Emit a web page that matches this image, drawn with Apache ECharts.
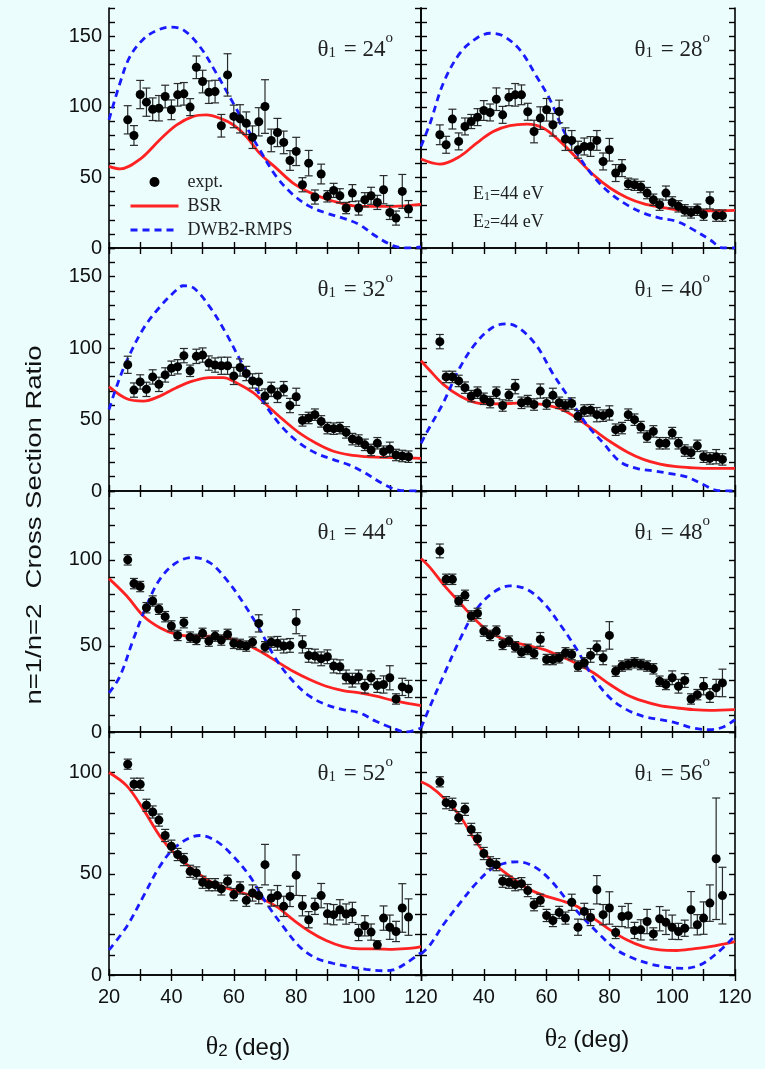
<!DOCTYPE html>
<html><head><meta charset="utf-8">
<script src="https://cdn.jsdelivr.net/npm/echarts@6/dist/echarts.min.js"></script>
<style>html,body{margin:0;padding:0;background:#ebfdfd;} #c{width:765px;height:1069px;}</style>
</head><body><div id="c"></div><script>
// ---------- data ----------
const theta1 = [24, 28, 32, 40, 44, 48, 52, 56];
const theta2Expt = [26,28,30,32,34,36,38,40,42,44,46,48,50,52,54,56,58,60,62,64,66,68,70,72,74,76,78,80,82,84,86,88,90,92,94,96,98,100,102,104,106,108,110,112,114,116];
const xTickLabels = [20, 40, 60, 80, 100, 120];
const yTickLabelsRow = [[0,50,100,150],[0,50,100,150],[0,50,100],[0,50,100]];
const yMaxRow = [170, 170, 140, 120];

const expt24 = [90.8,79.7,108.7,103.3,98.3,99,107.3,97.9,108.5,109.2,99.8,128,117.9,110.4,110.8,86.6,122.6,93.2,91.5,88.4,78.5,89.4,100.2,76.2,81.8,74.8,62,68.4,44.8,60.1,36.1,52.4,36.6,40.8,37,28.3,38.9,28.3,34.2,37,32.3,41.3,25.2,21.2,40.1,27.6];
const err24 = [10,7,10,10,8,9,8,7,8,8,6,8,8,8,8,8,15,8,10,8,8,10,19,8,10,8,7,10,5,9,5,7,4,5,5,4,6,5,5,6,5,10,5,5,12,6];
const expt28 = [80.2,73.1,91.3,75.5,86.1,89.6,92.7,97.4,96,105.4,94.3,106.8,108.5,108.5,96.5,82.5,92,97.9,87.3,96.7,77.1,76.2,69.6,71.9,71.9,76.2,61.3,69.6,53.1,56.6,45.5,44.8,43.2,38.9,34.2,30.7,38.9,32.3,29.5,26.7,25.2,27.1,23.6,33.7,22.9,22.9];
const err28 = [7,6,7,6,6,5,6,7,6,8,6,6,8,7,6,8,8,8,8,8,8,7,6,6,7,7,6,8,6,6,4,4,4,4,4,4,5,4,4,4,4,4,4,6,4,4];
const expt32 = [88.3,70.6,76.3,71.1,79.8,74.6,81.2,85.9,86.9,94.7,84.1,94.2,95.1,89.5,88.1,87.6,87.6,80.5,86.4,82.2,77,76.3,66.4,71.1,66.9,71.6,59.8,65.9,49.4,51.1,53.4,48.7,44,43.6,44,41,36.3,35.3,32.3,28.7,33.4,27.5,29.2,25.2,24.5,24];
const err32 = [6,5,5,5,5,5,5,5,5,5,4,5,5,5,5,6,6,6,6,5,5,6,5,5,5,5,5,6,4,4,4,4,4,4,4,4,4,4,4,4,4,4,5,4,4,4];
const expt40 = [104.5,79.8,79.8,77,72.3,66.4,68.8,64.5,62.2,68.8,59.8,67.1,73,61.7,62.9,60.5,69.9,61.2,66.9,61.7,59.8,61.2,52.3,56.3,56.5,53.4,52.7,54.6,42.9,44,53.4,49.9,44.7,38.1,41.7,33.4,33.4,40.5,33.4,28.3,26.8,31.6,24,22.8,24,22.1];
const err40 = [5,4,4,4,4,4,4,4,4,4,4,4,5,4,4,4,5,4,5,4,4,4,4,4,4,5,4,5,4,4,4,4,4,4,4,4,4,4,4,4,4,4,4,4,5,4];
const expt44 = [100,86.2,84.5,72.2,76.1,71.3,67,61.6,56.1,63.5,55.1,53.8,57.3,52.8,55.7,53.4,56.7,51.5,50.9,49.9,52.2,63.1,49.5,52.2,51.5,49.9,50.3,64.1,50.9,44.5,44.1,42.5,43.7,38.3,37.9,32,30.1,32,26.6,31.5,27,27.6,31.5,19.2,26.2,25];
const err44 = [3,3,3,3,3,3,3,3,3,3,3,3,3,3,3,3,3,3,3,3,3,5,3,3,4,4,4,7,5,4,4,4,4,4,4,4,4,4,4,4,4,5,7,3,5,5];
const expt48 = [105.2,88.7,88.7,76.1,79.4,67.4,68.9,58.6,56.1,58.6,50.9,52.8,49.5,46.4,48,45.6,53.8,42.1,42.1,43.1,46,45,38.3,40.2,44.5,48.9,43.1,56.1,35.3,38.3,39.2,40.2,39.2,38.3,36.7,29.5,27.6,31.5,26.6,29.9,19.2,21.7,26.6,21.2,25.6,28.5];
const err48 = [4,3,3,3,3,3,3,3,3,3,3,3,3,3,3,3,4,3,3,3,3,3,3,3,4,4,4,8,3,3,3,3,3,3,3,3,3,4,4,4,3,3,5,4,5,8];
const expt52 = [104.1,94.2,94.2,83.8,80.5,76.5,68.9,63.6,59.5,57,51.2,50.4,45.8,44.6,44.6,42.5,46.3,39.7,43,36.9,40.5,39.2,54.5,38,39.2,33.9,38.8,49.3,34.2,27.3,33.9,39.2,30.2,29.8,32.2,30.1,30.9,21,24.3,21.2,14.9,28.1,23.6,21.5,33.1,28.6];
const err52 = [2.5,3,3,3,3,3,3,3,3,3,3,3,3,3,3,3,3,3,3,3,4,4,10,4,5,5,5,10,5,4,4,6,5,5,5,5,5,4,5,4,2,6,6,5,12,9];
const expt56 = [95.4,85.1,84.3,77.7,81.8,71.9,67.3,60,55.4,54.5,46.3,45.8,44.6,45.1,41.7,34.7,36.9,29.4,26.9,30.9,28.1,35.9,23.6,31.4,28.4,42.1,29.8,33.1,21,28.9,29.3,22,22.3,26.4,20.3,27.8,26,23.6,21.5,23.1,32.2,24.8,28.1,35.5,57.4,39.2];
const err56 = [2.5,3,3,3,3,3,3,3,3,3,3,3,3,3,3,3,3,3,3,3,3,4,4,4,4,7,5,8,3,5,6,4,5,6,3,6,6,6,4,4,9,5,8,9,30,14];

const bsr24 = [[20,57.8],[23.5,56],[30,63],[36.3,76.7],[41.6,87],[47,93.2],[51.2,94.3],[55.5,92],[59.8,87.3],[64,79],[68.3,67],[73.6,56.6],[79,46],[84.3,39.4],[89.6,34.7],[95,31.4],[100.3,29.5],[111,29.5],[120,30.9]];
const dwb24 = [[20,90.8],[23.5,116.7],[26.7,135.6],[31,147.9],[35.2,154],[39.5,156.4],[43.8,154.5],[49.1,142.7],[54.4,123.8],[59.8,102.6],[64,86],[68.3,69.6],[73.6,50.7],[79,37.7],[84.3,29.5],[89.6,24.8],[95,21.2],[100.3,16.5],[105.6,8.3],[111,1.7],[115.2,0],[120,0.7]];
const bsr28 = [[20,63],[26,59.4],[32.4,64.9],[37.7,74.3],[43,82.5],[48.3,86.6],[53.7,87.7],[59,84.9],[64.3,75.5],[69.6,63.7],[74.9,51.9],[80.2,42.5],[85.5,35.8],[90.8,31.4],[96.1,29],[101.4,27.1],[106.7,26.4],[112,26.4],[120,26.7]];
const dwb28 = [[20,72],[22.9,88.4],[27.1,116.7],[32.4,138],[37.7,148.6],[42,152.1],[46.2,150.2],[51.5,140.3],[56.8,121.5],[61.1,105],[65.3,83.7],[69.6,67.2],[74.9,50.7],[80.2,38.9],[85.5,30.7],[90.8,24.8],[96.1,21.2],[101.4,18.9],[106.7,13],[112,5.9],[116.3,0],[120,0]];
const bsr32 = [[20,73],[25.7,64.5],[31,62.9],[36.3,66.4],[41.6,72.3],[47,77],[52.3,79.3],[56.6,79.3],[60.8,75.8],[66.2,68.8],[70.4,60.5],[75.8,49.9],[81.1,40.5],[86.4,33.4],[91.7,28],[97.1,25.2],[102.4,24],[107.7,23.5],[113.1,23.3],[120,22.8]];
const dwb32 = [[20,57],[22.5,73.5],[25.7,91.1],[31,113.5],[36.3,128.8],[41.6,140.6],[43.8,143.6],[47,142.2],[52.3,128.8],[57.6,110],[61.9,92.3],[66.2,75.8],[70.4,59.3],[75.8,44],[81.1,33.4],[86.4,26.4],[91.7,22.1],[97.1,18.1],[102.4,12.2],[107.7,5.2],[113.1,0.5],[120,0]];
const bsr40 = [[20,91.1],[22.9,84.1],[27.1,74.6],[32.4,66.4],[37.7,61.7],[43,61],[48.3,61.2],[53.7,61.7],[59,60.5],[64.3,57.5],[69.6,51.1],[74.9,42.9],[80.2,34.6],[85.5,27.5],[90.8,22.1],[96.1,18.8],[101.4,17],[106.7,16.2],[112,15.8],[120,15.8]];
const dwb40 = [[20,33.4],[22.9,45.2],[27.1,61.7],[32.4,86.4],[37.7,104.1],[43,114.7],[47.3,117],[51.5,113.5],[56.8,101.7],[62.1,81.7],[67.5,64],[72.8,46.4],[78.1,33.4],[83.4,20.5],[88.7,15.8],[94,14.1],[99.3,12.2],[104.6,9.9],[109.9,4.5],[114.2,0.5],[120,0]];
const bsr44 = [[20,89.1],[25.7,79],[31,67.4],[36.3,60.6],[41.6,56.7],[47,55.7],[52.3,55.7],[57.6,54.8],[63,51.8],[68.3,47],[73.6,41.2],[79,35.3],[84.3,30.5],[89.6,26.6],[95,24.1],[100.3,22.7],[105.6,20.8],[110.9,18.4],[116.3,16.5],[120,15.3]];
const dwb44 = [[20,22.7],[23.5,32.4],[27.8,53.8],[32,73.2],[36.3,88.7],[41.6,98.4],[47,101.4],[52.3,98.4],[57.6,88.7],[63,75.1],[68.3,59.6],[73.6,42.1],[79,29.5],[84.3,20.8],[89.6,15.9],[95,13],[100.3,11.1],[105.6,6.2],[110.9,2.3],[115.2,0],[120,2.3]];
const bsr48 = [[20,100.8],[22.9,95.5],[27.1,85.8],[32.4,75.1],[37.7,64.5],[43,56.7],[48.3,52.8],[53.7,50.3],[59,48],[64.3,44.1],[69.6,39.8],[74.9,34.4],[80.2,27.6],[85.5,21.7],[90.8,17.9],[96.1,15.3],[101.4,14],[106.7,13],[112,12.6],[120,13]];
const dwb48 = [[20,2.3],[22.9,15],[27.1,32.4],[32.4,53.8],[37.7,71.3],[43,81],[48.3,84.9],[53.7,82.9],[59,75.1],[64.3,62.5],[69.6,48],[74.9,31.5],[80.2,19.8],[85.5,13],[90.8,9.1],[96.1,7.2],[101.4,5.2],[106.7,2.3],[112,1.4],[116.3,2.9],[120,7.2]];
const bsr52 = [[20,100],[25.7,93.4],[31,81.8],[36.3,68.6],[41.6,59],[47,52.1],[52.3,46.3],[57.6,43],[63,40.5],[68.3,38],[73.6,33.9],[79,27.3],[84.3,21.5],[89.6,17],[95,14],[100.3,12.9],[105.6,12.9],[110.9,12.7],[116.3,13.1],[120,14]];
const dwb52 = [[20,12.4],[25.7,24],[31,38.8],[36.3,53.7],[41.6,63.6],[49.1,68.9],[54.4,66.1],[59.8,58.7],[65.1,48.8],[70.4,35.5],[75.8,24],[81.1,14],[86.4,8.3],[91.7,5.8],[97.1,4.1],[102.4,2.8],[107.7,2.1],[111,2.5],[115.2,5.8],[120,11.1]];
const bsr56 = [[20,95.4],[22.9,93.1],[27.1,87.6],[32.4,78.5],[37.7,65.3],[43,55.4],[48.3,48.8],[53.7,43],[59,39.3],[64.3,36.9],[69.6,33.9],[74.9,28.1],[80.2,22.3],[85.5,17.4],[90.8,14],[96.1,12.4],[101.4,12.1],[106.7,12.9],[112,14],[120,16.5]];
const dwb56 = [[20,10.4],[22.9,14.9],[27.1,24.8],[32.4,35.5],[37.7,45.5],[43,52.9],[48.3,55.7],[50.5,55.9],[55.8,53.7],[61.1,47.1],[66.4,37.2],[71.7,28.1],[77,19.8],[82.3,12.4],[87.6,8.3],[92.9,5.5],[99.3,3.6],[103.5,3.3],[108.9,5],[114.2,10.7],[120,19.3]];

const exptAll = [expt24, expt28, expt32, expt40, expt44, expt48, expt52, expt56];
const errAll = [err24, err28, err32, err40, err44, err48, err52, err56];
const bsrAll = [bsr24, bsr28, bsr32, bsr40, bsr44, bsr48, bsr52, bsr56];
const dwbAll = [dwb24, dwb28, dwb32, dwb40, dwb44, dwb48, dwb52, dwb56];

// ---------- layout ----------
const colBox = [{left: 109, width: 312}, {left: 421, width: 314}];
const rowBox = [{top: 8, height: 240}, {top: 248, height: 243}, {top: 491, height: 241}, {top: 732, height: 243}];
const RED = '#ff2222', BLUE = '#1a1aff', INK = '#111';
const SERIF = 'Liberation Serif', SANS = 'Liberation Sans';

const grids = [], xAxes = [], yAxes = [], series = [], graphics = [];
const lineAx = {lineStyle: {color: '#000', width: 1.6}};
const tickAx = {inside: true, length: 6, lineStyle: {color: '#000', width: 1.4}};

for (let i = 0; i < 8; i++) {
  const col = i % 2, row = Math.floor(i / 2);
  grids.push({left: colBox[col].left, top: rowBox[row].top, width: colBox[col].width, height: rowBox[row].height, containLabel: false});
  const showX = row === 3;
  xAxes.push({gridIndex: i, type: 'value', min: 20, max: 120, interval: 10, position: 'bottom',
    axisLine: lineAx, axisTick: tickAx, splitLine: {show: false},
    axisLabel: {show: showX, margin: 12, fontFamily: SANS, fontSize: 20, color: INK,
      formatter: v => (xTickLabels.includes(v) && !(col === 1 && v === 20)) ? String(v) : ''}});
  xAxes.push({gridIndex: i, type: 'value', min: 20, max: 120, interval: 10, position: 'top',
    axisLine: lineAx, axisTick: tickAx, splitLine: {show: false}, axisLabel: {show: false}});
  const ym = yMaxRow[row], yl = yTickLabelsRow[row];
  yAxes.push({gridIndex: i, type: 'value', min: 0, max: ym, interval: 10, position: 'left',
    axisLine: lineAx, axisTick: tickAx, splitLine: {show: false},
    axisLabel: {show: col === 0, margin: 7, fontFamily: SANS, fontSize: 20, color: INK,
      formatter: v => yl.includes(v) ? String(v) : ''}});
  yAxes.push({gridIndex: i, type: 'value', min: 0, max: ym, interval: 10, position: 'right',
    axisLine: lineAx, axisTick: tickAx, splitLine: {show: false}, axisLabel: {show: false}});

  const xi = 2 * i, yi = 2 * i;
  series.push({name: 'BSR', type: 'line', xAxisIndex: xi, yAxisIndex: yi, data: bsrAll[i],
    smooth: 0.35, symbol: 'none', clip: true, lineStyle: {color: RED, width: 2.8}, itemStyle: {color: RED}, z: 2});
  series.push({name: 'DWB2-RMPS', type: 'line', xAxisIndex: xi, yAxisIndex: yi, data: dwbAll[i],
    smooth: 0.35, symbol: 'none', clip: true, lineStyle: {color: BLUE, width: 2.8, type: [7, 5]}, itemStyle: {color: BLUE}, z: 2});
  const ex = exptAll[i], er = errAll[i];
  series.push({name: 'err', type: 'custom', xAxisIndex: xi, yAxisIndex: yi, clip: true, z: 3,
    data: theta2Expt.map((x, k) => [x, ex[k] - er[k], ex[k] + er[k]]),
    encode: {x: 0, y: [1, 2]},
    renderItem: (params, api) => {
      const lo = api.coord([api.value(0), api.value(1)]);
      const hi = api.coord([api.value(0), api.value(2)]);
      const hw = 4;
      const st = {stroke: '#2a2a2a', lineWidth: 1.2};
      return {type: 'group', children: [
        {type: 'line', shape: {x1: lo[0], y1: lo[1], x2: hi[0], y2: hi[1]}, style: st},
        {type: 'line', shape: {x1: lo[0] - hw, y1: lo[1], x2: lo[0] + hw, y2: lo[1]}, style: st},
        {type: 'line', shape: {x1: hi[0] - hw, y1: hi[1], x2: hi[0] + hw, y2: hi[1]}, style: st}
      ]};
    }});
  series.push({name: 'expt.', type: 'scatter', xAxisIndex: xi, yAxisIndex: yi, z: 4,
    data: theta2Expt.map((x, k) => [x, ex[k]]), symbol: 'circle', symbolSize: 9,
    itemStyle: {color: '#000', opacity: 1}});

  // panel title  θ1 = NN°
  const rightX = col === 0 ? 393 : 710;
  graphics.push({type: 'text', x: rightX, y: rowBox[row].top + 38, z: 10,
    style: {text: '{t|θ}{s|1}{t| = ' + theta1[i] + '}{o|o}', align: 'right', verticalAlign: 'middle',
      rich: {t: {fontFamily: SERIF, fontSize: 23, lineHeight: 28, verticalAlign: 'bottom', fill: '#222'},
             s: {fontFamily: SERIF, fontSize: 15, lineHeight: 15, verticalAlign: 'bottom', padding: [0, 2, 0, 0], fill: '#222'},
             o: {fontFamily: SERIF, fontSize: 15, lineHeight: 30, verticalAlign: 'top', fill: '#222'}}}});
}

// energies text in panel 2
['1', '2'].forEach((n, k) => {
  graphics.push({type: 'text', x: 473, y: 192 + k * 28, z: 10,
    style: {text: '{t|E}{s|' + n + '}{t|=44 eV}', align: 'left', verticalAlign: 'middle',
      rich: {t: {fontFamily: SERIF, fontSize: 18, lineHeight: 22, verticalAlign: 'bottom', fill: '#222'},
             s: {fontFamily: SERIF, fontSize: 12, lineHeight: 12, verticalAlign: 'bottom', fill: '#222'}}}});
});

// axis titles
graphics.push({type: 'text', x: 35, y: 525, rotation: Math.PI / 2, scaleX: 1.25, z: 10,
  style: {text: 'n=1/n=2  Cross Section Ratio', align: 'center', verticalAlign: 'middle',
    fontFamily: SANS, fontSize: 22, fill: '#111'}});
[[248, 1045], [587, 1037]].forEach(p => {
  graphics.push({type: 'text', x: p[0], y: p[1], z: 10,
    style: {text: '{t|θ}{s|2}{a| (deg)}', align: 'center', verticalAlign: 'middle',
      rich: {t: {fontFamily: SERIF, fontSize: 26, lineHeight: 30, verticalAlign: 'bottom', fill: '#111'},
             s: {fontFamily: SANS, fontSize: 17, lineHeight: 17, verticalAlign: 'bottom', fill: '#111'},
             a: {fontFamily: SANS, fontSize: 24, lineHeight: 30, verticalAlign: 'bottom', fill: '#111'}}}});
});

const chart = echarts.init(document.getElementById('c'), null, {renderer: 'canvas'});
chart.setOption({
  backgroundColor: '#ebfdfd',
  animation: false,
  grid: grids, xAxis: xAxes, yAxis: yAxes, series: series, graphic: graphics,
  legend: {left: 129, top: 173, padding: 0, orient: 'vertical', itemWidth: 48, itemHeight: 10, itemGap: 6,
    data: [{name: 'expt.'},
           {name: 'BSR', itemStyle: {opacity: 0}, lineStyle: {width: 3, color: RED}},
           {name: 'DWB2-RMPS', itemStyle: {opacity: 0}, lineStyle: {width: 3, color: BLUE, type: [7, 5]}}],
    textStyle: {fontFamily: SERIF, fontSize: 18, color: '#222', padding: [0, 0, 0, 4]}}
});
</script></body></html>
